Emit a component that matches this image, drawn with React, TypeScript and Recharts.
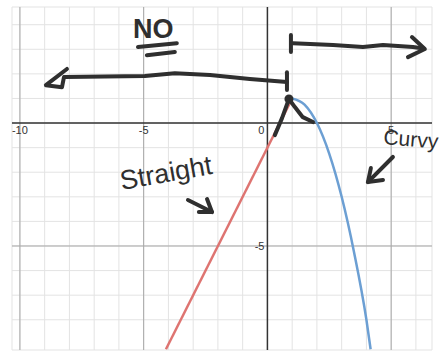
import { ComposedChart, Line, Scatter, XAxis, YAxis, CartesianGrid, ReferenceLine } from 'recharts';

// grid ticks, one unit apart
const xTicks = [-10, -9, -8, -7, -6, -5, -4, -3, -2, -1, 0, 1, 2, 3, 4, 5, 6];
const yTicks = [-9, -8, -7, -6, -5, -4, -3, -2, -1, 0, 1, 2, 3, 4];
const majorX = [-10, -5, 5];
const majorY = [-5];

// straight piece (left of the corner) and the curved piece (right of it)
const straightPart = [
  { x: -4.1, y: -9.2 },
  { x: 1, y: 1 },
];
const curvedPart = [
  { x: 1, y: 1 },
  { x: 1.5, y: 0.75 },
  { x: 2, y: 0 },
  { x: 2.5, y: -1.25 },
  { x: 3, y: -3 },
  { x: 3.5, y: -5.25 },
  { x: 4, y: -8 },
  { x: 4.17, y: -9.2 },
];

// axis numbers
const xAxisLabels = [
  { x: -10, y: 0, text: '-10' },
  { x: -5, y: 0, text: '-5' },
  { x: 5, y: 0, text: '5' },
];
const originLabels = [
  { x: 0, y: 0, text: '0', dy: 11 },
  { x: 0, y: -5, text: '-5', dy: 4 },
];

// pen strokes
const leftArrowShaft = [
  { x: -8.18, y: 1.87 }, { x: -4.95, y: 1.91 }, { x: -3.74, y: 2.03 },
  { x: -2.32, y: 1.95 }, { x: -0.71, y: 1.79 }, { x: 0.79, y: 1.67 },
];
const leftArrowHead = [
  { x: -8.1, y: 2.2 }, { x: -8.95, y: 1.54 }, { x: -8.3, y: 1.46 }, { x: -8.22, y: 1.87 },
];
const leftArrowBar = [{ x: 0.79, y: 2.07 }, { x: 0.79, y: 1.34 }];
const rightArrowBar = [{ x: 0.95, y: 3.58 }, { x: 0.95, y: 2.89 }];
const rightArrowShaft = [
  { x: 1.03, y: 3.25 }, { x: 2.65, y: 3.17 }, { x: 3.86, y: 3.09 },
  { x: 4.67, y: 3.17 }, { x: 5.88, y: 3.09 }, { x: 6.3, y: 3.03 },
];
const rightArrowHead = [{ x: 5.84, y: 3.5 }, { x: 6.36, y: 3.01 }, { x: 5.68, y: 2.68 }];
const noUnderlineTop = [{ x: -5.23, y: 3.09 }, { x: -3.66, y: 3.25 }];
const noUnderlineBottom = [{ x: -4.87, y: 2.76 }, { x: -3.74, y: 2.89 }];
const cornerLeftLeg = [{ x: 0.3, y: -0.49 }, { x: 0.59, y: 0.2 }, { x: 0.87, y: 0.98 }];
const cornerRightLeg = [{ x: 0.87, y: 0.98 }, { x: 1.11, y: 0.65 }, { x: 1.43, y: 0.24 }, { x: 1.84, y: 0.04 }];
const straightArrowShaft = [{ x: -3.21, y: -3.13 }, { x: -2.24, y: -3.62 }];
const straightArrowHead = [{ x: -2.44, y: -3.09 }, { x: -2.24, y: -3.62 }, { x: -2.77, y: -3.62 }];
const curvyArrowShaft = [{ x: 5.07, y: -1.38 }, { x: 4.06, y: -2.4 }];
const curvyArrowHead = [{ x: 4.18, y: -1.83 }, { x: 4.06, y: -2.4 }, { x: 4.67, y: -2.32 }];

const penStrokes = [
  leftArrowShaft, leftArrowHead, leftArrowBar, rightArrowBar, rightArrowShaft, rightArrowHead,
  noUnderlineTop, noUnderlineBottom, cornerLeftLeg, cornerRightLeg,
  straightArrowShaft, straightArrowHead, curvyArrowShaft, curvyArrowHead,
];
const cornerDot = [{ x: 0.87, y: 0.98 }];

// handwritten words
const notes = [
  { x: -5.43, y: 3.46, text: 'NO', size: 27, weight: 700, angle: 0 },
  { x: -5.88, y: -2.72, text: 'Straight', size: 27, weight: 400, angle: -10 },
  { x: 4.67, y: -0.85, text: 'Curvy', size: 21, weight: 400, angle: 5 },
];

const INK = '#2f2f2f';
const FONT = '"Liberation Sans", Arial, sans-serif';

const App = () => {
  return (
    <div style={{ position: 'absolute', left: 0, top: 0 }}>
      <ComposedChart width={442} height={352} margin={{ top: 7, right: 10, bottom: 2, left: 12 }}>
        <XAxis type="number" dataKey="x" domain={[-10.32, 6.65]} ticks={xTicks} hide />
        <YAxis type="number" dataKey="y" domain={[-9.23, 4.72]} ticks={yTicks} hide />
        <CartesianGrid stroke="#e3e3e3" strokeWidth={1} />
        {majorX.map((v) => (
          <ReferenceLine key={`mx${v}`} x={v} stroke="#a8a8a8" strokeWidth={1} />
        ))}
        {majorY.map((v) => (
          <ReferenceLine key={`my${v}`} y={v} stroke="#a8a8a8" strokeWidth={1} />
        ))}
        <ReferenceLine x={0} stroke="#333" strokeWidth={1.5} />
        <ReferenceLine y={0} stroke="#333" strokeWidth={1.5} />

        <Scatter
          data={xAxisLabels}
          dataKey="y"
          isAnimationActive={false}
          shape={(p: any) => (
            <text x={p.cx} y={p.cy + 11} textAnchor="middle" fontSize={11} fontFamily={FONT} fill="#333">
              {p.payload.text}
            </text>
          )}
        />
        <Scatter
          data={originLabels}
          dataKey="y"
          isAnimationActive={false}
          shape={(p: any) => (
            <text x={p.cx - 3} y={p.cy + p.payload.dy} textAnchor="end" fontSize={11} fontFamily={FONT} fill="#333">
              {p.payload.text}
            </text>
          )}
        />

        <Line data={straightPart} dataKey="y" type="linear" stroke="#de7471" strokeWidth={2.5} dot={false} activeDot={false} isAnimationActive={false} />
        <Line data={curvedPart} dataKey="y" type="monotone" stroke="#6c9fd3" strokeWidth={2.5} dot={false} activeDot={false} isAnimationActive={false} />

        {penStrokes.map((pts, i) => (
          <Line
            key={`pen${i}`}
            data={pts}
            dataKey="y"
            type="linear"
            stroke={INK}
            strokeWidth={4}
            strokeLinecap="round"
            strokeLinejoin="round"
            dot={false}
            activeDot={false}
            isAnimationActive={false}
          />
        ))}
        <Scatter
          data={cornerDot}
          dataKey="y"
          isAnimationActive={false}
          shape={(p: any) => <circle cx={p.cx} cy={p.cy} r={4.5} fill={INK} />}
        />
        <Scatter
          data={notes}
          dataKey="y"
          isAnimationActive={false}
          shape={(p: any) => (
            <text
              x={p.cx}
              y={p.cy}
              fontSize={p.payload.size}
              fontWeight={p.payload.weight}
              fontFamily={FONT}
              fill={INK}
              transform={`rotate(${p.payload.angle} ${p.cx} ${p.cy})`}
            >
              {p.payload.text}
            </text>
          )}
        />
      </ComposedChart>
    </div>
  );
};

export default App;
